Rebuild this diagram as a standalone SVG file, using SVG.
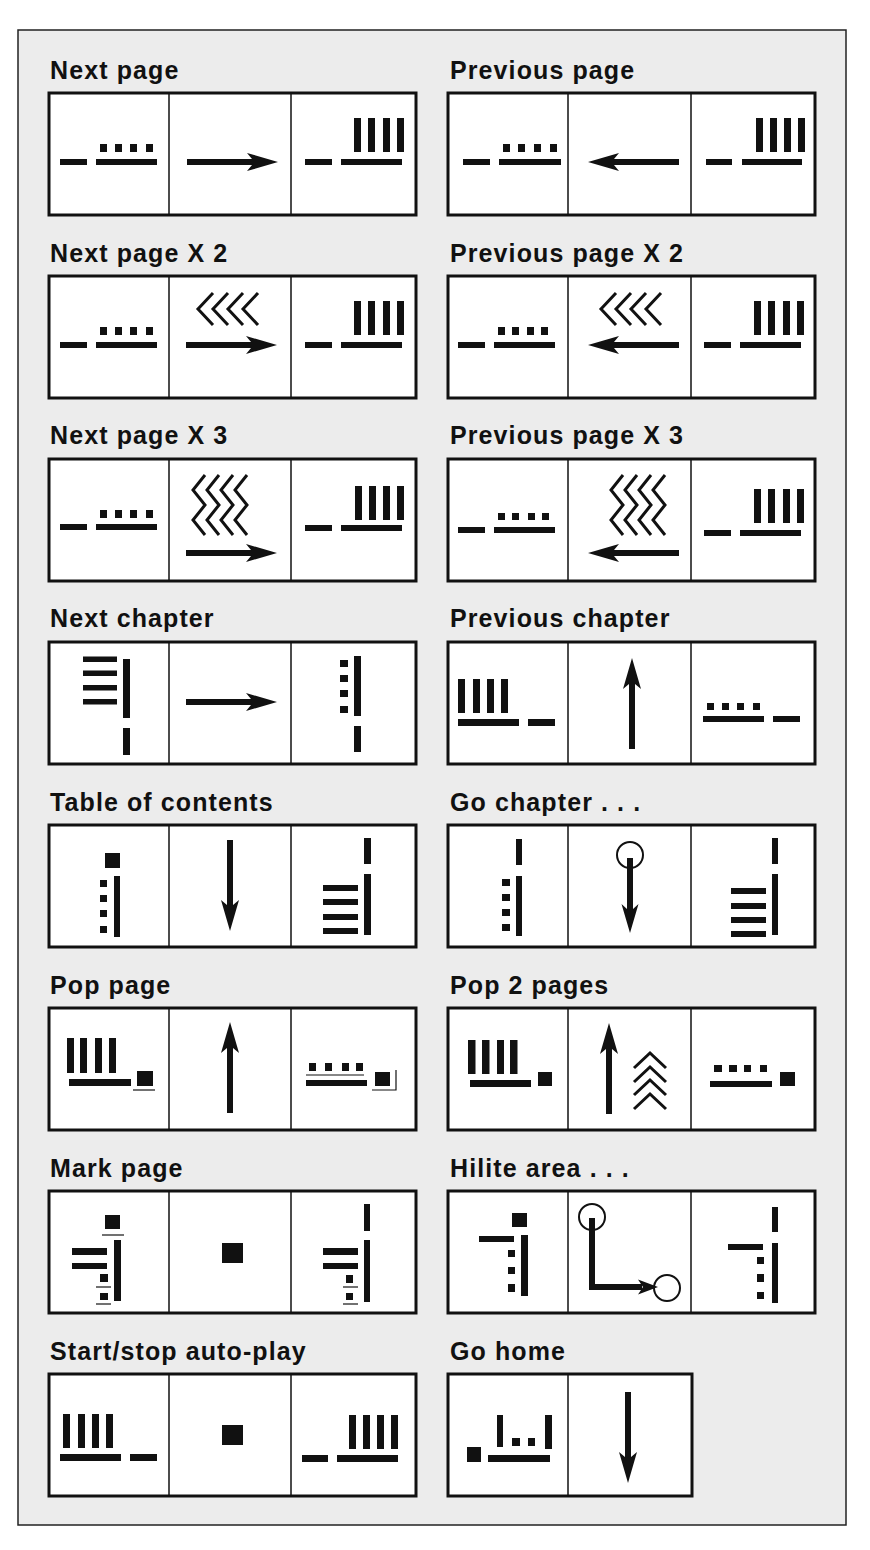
<svg xmlns="http://www.w3.org/2000/svg" xmlns:xlink="http://www.w3.org/1999/xlink" width="870" height="1550" viewBox="0 0 870 1550">
<style>
.frame{fill:#ececec;stroke:#222;stroke-width:1.5}
.box{fill:#fff;stroke:#111;stroke-width:3}
.dv{stroke:#111;stroke-width:1.5}
.k{fill:#111}
.lab{font-family:"Liberation Sans",Arial,Helvetica,sans-serif;font-weight:bold;font-size:25px;letter-spacing:1.1px;fill:#111}
.zz{fill:none;stroke:#111;stroke-width:3;stroke-linejoin:miter}
.thin{fill:none;stroke:#111;stroke-width:1.2}
.ring{fill:none;stroke:#111;stroke-width:2}
.ln{fill:none;stroke:#111;stroke-width:6}
</style>
<defs>
<path id="ar" d="M0,0 L-31,-9 L-26,-3 L-91,-3 L-91,3 L-26,3 L-31,9 Z" fill="#111"/>
</defs>
<rect class="frame" x="18" y="30" width="828" height="1495"/>

<g id="next-page">
<text class="lab" x="50" y="79">Next page</text>
<rect class="box" x="49" y="93" width="367" height="122"/>
<line class="dv" x1="169" y1="93" x2="169" y2="215"/><line class="dv" x1="291" y1="93" x2="291" y2="215"/>
<rect class="k" x="60" y="159" width="27" height="6"/><rect class="k" x="96" y="159" width="61" height="6"/>
<rect class="k" x="100" y="144" width="7" height="8"/><rect class="k" x="115" y="144" width="7" height="8"/><rect class="k" x="130" y="144" width="7" height="8"/><rect class="k" x="146" y="144" width="7" height="8"/>
<use xlink:href="#ar" transform="translate(278,162)"/>
<rect class="k" x="305" y="159" width="27" height="6"/><rect class="k" x="341" y="159" width="61" height="6"/>
<rect class="k" x="354" y="118" width="7" height="34"/><rect class="k" x="368" y="118" width="7" height="34"/><rect class="k" x="383" y="118" width="7" height="34"/><rect class="k" x="397" y="118" width="7" height="34"/>
</g>

<g id="previous-page">
<text class="lab" x="450" y="79">Previous page</text>
<rect class="box" x="448" y="93" width="367" height="122"/>
<line class="dv" x1="568" y1="93" x2="568" y2="215"/><line class="dv" x1="691" y1="93" x2="691" y2="215"/>
<rect class="k" x="463" y="159" width="27" height="6"/><rect class="k" x="499" y="159" width="62" height="6"/>
<rect class="k" x="503" y="144" width="7" height="8"/><rect class="k" x="518" y="144" width="7" height="8"/><rect class="k" x="534" y="144" width="7" height="8"/><rect class="k" x="550" y="144" width="7" height="8"/>
<use xlink:href="#ar" transform="translate(588,162) rotate(180)"/>
<rect class="k" x="706" y="159" width="26" height="6"/><rect class="k" x="742" y="159" width="60" height="6"/>
<rect class="k" x="756" y="118" width="7" height="34"/><rect class="k" x="770" y="118" width="7" height="34"/><rect class="k" x="784" y="118" width="7" height="34"/><rect class="k" x="798" y="118" width="7" height="34"/>
</g>

<g id="next-page-x2">
<text class="lab" x="50" y="262">Next page X 2</text>
<rect class="box" x="49" y="276" width="367" height="122"/>
<line class="dv" x1="169" y1="276" x2="169" y2="398"/><line class="dv" x1="291" y1="276" x2="291" y2="398"/>
<rect class="k" x="60" y="342" width="27" height="6"/><rect class="k" x="96" y="342" width="61" height="6"/>
<rect class="k" x="100" y="327" width="7" height="8"/><rect class="k" x="115" y="327" width="7" height="8"/><rect class="k" x="130" y="327" width="7" height="8"/><rect class="k" x="146" y="327" width="7" height="8"/>
<polyline class="zz" points="213,293 198,309 213,325"/><polyline class="zz" points="228,293 213,309 228,325"/><polyline class="zz" points="243,293 228,309 243,325"/><polyline class="zz" points="258,293 243,309 258,325"/>
<use xlink:href="#ar" transform="translate(277,345)"/>
<rect class="k" x="305" y="342" width="27" height="6"/><rect class="k" x="341" y="342" width="61" height="6"/>
<rect class="k" x="354" y="301" width="7" height="34"/><rect class="k" x="368" y="301" width="7" height="34"/><rect class="k" x="383" y="301" width="7" height="34"/><rect class="k" x="397" y="301" width="7" height="34"/>
</g>

<g id="previous-page-x2">
<text class="lab" x="450" y="262">Previous page X 2</text>
<rect class="box" x="448" y="276" width="367" height="122"/>
<line class="dv" x1="568" y1="276" x2="568" y2="398"/><line class="dv" x1="691" y1="276" x2="691" y2="398"/>
<rect class="k" x="458" y="342" width="27" height="6"/><rect class="k" x="494" y="342" width="61" height="6"/>
<rect class="k" x="498" y="327" width="7" height="8"/><rect class="k" x="512" y="327" width="7" height="8"/><rect class="k" x="527" y="327" width="7" height="8"/><rect class="k" x="541" y="327" width="7" height="8"/>
<polyline class="zz" points="616,293 601,309 616,325"/><polyline class="zz" points="631,293 616,309 631,325"/><polyline class="zz" points="646,293 631,309 646,325"/><polyline class="zz" points="661,293 646,309 661,325"/>
<use xlink:href="#ar" transform="translate(588,345) rotate(180)"/>
<rect class="k" x="704" y="342" width="27" height="6"/><rect class="k" x="740" y="342" width="61" height="6"/>
<rect class="k" x="754" y="301" width="7" height="34"/><rect class="k" x="768" y="301" width="7" height="34"/><rect class="k" x="783" y="301" width="7" height="34"/><rect class="k" x="797" y="301" width="7" height="34"/>
</g>

<g id="next-page-x3">
<text class="lab" x="50" y="444">Next page X 3</text>
<rect class="box" x="49" y="459" width="367" height="122"/>
<line class="dv" x1="169" y1="459" x2="169" y2="581"/><line class="dv" x1="291" y1="459" x2="291" y2="581"/>
<rect class="k" x="60" y="524" width="27" height="6"/><rect class="k" x="96" y="524" width="61" height="6"/>
<rect class="k" x="100" y="510" width="7" height="8"/><rect class="k" x="115" y="510" width="7" height="8"/><rect class="k" x="130" y="510" width="7" height="8"/><rect class="k" x="146" y="510" width="7" height="8"/>
<polyline class="zz" points="205,475 193,490 205,505 193,520 205,535"/><polyline class="zz" points="219,475 207,490 219,505 207,520 219,535"/><polyline class="zz" points="233,475 221,490 233,505 221,520 233,535"/><polyline class="zz" points="247,475 235,490 247,505 235,520 247,535"/>
<use xlink:href="#ar" transform="translate(277,553)"/>
<rect class="k" x="305" y="525" width="27" height="6"/><rect class="k" x="341" y="525" width="61" height="6"/>
<rect class="k" x="355" y="486" width="7" height="34"/><rect class="k" x="369" y="486" width="7" height="34"/><rect class="k" x="383" y="486" width="7" height="34"/><rect class="k" x="397" y="486" width="7" height="34"/>
</g>

<g id="previous-page-x3">
<text class="lab" x="450" y="444">Previous page X 3</text>
<rect class="box" x="448" y="459" width="367" height="122"/>
<line class="dv" x1="568" y1="459" x2="568" y2="581"/><line class="dv" x1="691" y1="459" x2="691" y2="581"/>
<rect class="k" x="458" y="527" width="27" height="6"/><rect class="k" x="494" y="527" width="61" height="6"/>
<rect class="k" x="498" y="513" width="7" height="7"/><rect class="k" x="512" y="513" width="7" height="7"/><rect class="k" x="528" y="513" width="7" height="7"/><rect class="k" x="542" y="513" width="7" height="7"/>
<polyline class="zz" points="623,475 611,490 623,505 611,520 623,535"/><polyline class="zz" points="637,475 625,490 637,505 625,520 637,535"/><polyline class="zz" points="651,475 639,490 651,505 639,520 651,535"/><polyline class="zz" points="665,475 653,490 665,505 653,520 665,535"/>
<use xlink:href="#ar" transform="translate(588,553) rotate(180)"/>
<rect class="k" x="704" y="530" width="27" height="6"/><rect class="k" x="740" y="530" width="61" height="6"/>
<rect class="k" x="754" y="489" width="7" height="34"/><rect class="k" x="768" y="489" width="7" height="34"/><rect class="k" x="783" y="489" width="7" height="34"/><rect class="k" x="797" y="489" width="7" height="34"/>
</g>

<g id="next-chapter">
<text class="lab" x="50" y="627">Next chapter</text>
<rect class="box" x="49" y="642" width="367" height="122"/>
<line class="dv" x1="169" y1="642" x2="169" y2="764"/><line class="dv" x1="291" y1="642" x2="291" y2="764"/>
<rect class="k" x="83" y="656.5" width="34" height="5.5"/><rect class="k" x="83" y="670.5" width="34" height="5.5"/><rect class="k" x="83" y="685" width="34" height="5.5"/><rect class="k" x="83" y="699" width="34" height="5.5"/>
<rect class="k" x="123" y="659" width="7" height="59"/><rect class="k" x="123" y="728" width="7" height="27"/>
<use xlink:href="#ar" transform="translate(277,702)"/>
<rect class="k" x="340" y="660" width="8" height="7"/><rect class="k" x="340" y="675" width="8" height="7"/><rect class="k" x="340" y="690" width="8" height="7"/><rect class="k" x="340" y="706" width="8" height="7"/>
<rect class="k" x="354" y="656" width="7" height="60"/><rect class="k" x="354" y="726" width="7" height="26"/>
</g>

<g id="previous-chapter">
<text class="lab" x="450" y="627">Previous chapter</text>
<rect class="box" x="448" y="642" width="367" height="122"/>
<line class="dv" x1="568" y1="642" x2="568" y2="764"/><line class="dv" x1="691" y1="642" x2="691" y2="764"/>
<rect class="k" x="458" y="679" width="7" height="34"/><rect class="k" x="473" y="679" width="7" height="34"/><rect class="k" x="487" y="679" width="7" height="34"/><rect class="k" x="501" y="679" width="7" height="34"/>
<rect class="k" x="458" y="719" width="61" height="7"/><rect class="k" x="528" y="719" width="27" height="7"/>
<use xlink:href="#ar" transform="translate(632,658) rotate(-90)"/>
<rect class="k" x="707" y="703" width="7" height="7"/><rect class="k" x="722" y="703" width="7" height="7"/><rect class="k" x="737" y="703" width="7" height="7"/><rect class="k" x="753" y="703" width="7" height="7"/>
<rect class="k" x="703" y="716" width="61" height="6"/><rect class="k" x="773" y="716" width="27" height="6"/>
</g>

<g id="table-of-contents">
<text class="lab" x="50" y="811">Table of contents</text>
<rect class="box" x="49" y="825" width="367" height="122"/>
<line class="dv" x1="169" y1="825" x2="169" y2="947"/><line class="dv" x1="291" y1="825" x2="291" y2="947"/>
<rect class="k" x="105" y="853" width="15" height="15"/>
<rect class="k" x="100" y="880" width="7" height="7"/><rect class="k" x="100" y="895" width="7" height="7"/><rect class="k" x="100" y="910" width="7" height="7"/><rect class="k" x="100" y="926" width="7" height="7"/>
<rect class="k" x="114" y="876" width="6" height="61"/>
<use xlink:href="#ar" transform="translate(230,931) rotate(90)"/>
<rect class="k" x="364" y="838" width="7" height="26"/><rect class="k" x="364" y="874" width="7" height="61"/>
<rect class="k" x="323" y="885" width="35" height="6"/><rect class="k" x="323" y="899" width="35" height="6"/><rect class="k" x="323" y="914" width="35" height="6"/><rect class="k" x="323" y="928" width="35" height="6"/>
</g>

<g id="go-chapter">
<text class="lab" x="450" y="811">Go chapter . . .</text>
<rect class="box" x="448" y="825" width="367" height="122"/>
<line class="dv" x1="568" y1="825" x2="568" y2="947"/><line class="dv" x1="691" y1="825" x2="691" y2="947"/>
<rect class="k" x="516" y="839" width="6" height="26"/><rect class="k" x="516" y="876" width="6" height="60"/>
<rect class="k" x="502" y="879" width="8" height="7"/><rect class="k" x="502" y="894" width="8" height="7"/><rect class="k" x="502" y="909" width="8" height="7"/><rect class="k" x="502" y="924" width="8" height="7"/>
<circle class="ring" cx="630" cy="855" r="13"/>
<path class="k" d="M630,933 L621.5,904 L627,909 L627,858 L633,858 L633,909 L638.5,904 Z"/>
<rect class="k" x="772" y="838" width="6" height="26"/><rect class="k" x="772" y="874" width="6" height="61"/>
<rect class="k" x="731" y="888" width="35" height="6"/><rect class="k" x="731" y="903" width="35" height="6"/><rect class="k" x="731" y="917" width="35" height="6"/><rect class="k" x="731" y="931" width="35" height="6"/>
</g>

<g id="pop-page">
<text class="lab" x="50" y="994">Pop page</text>
<rect class="box" x="49" y="1008" width="367" height="122"/>
<line class="dv" x1="169" y1="1008" x2="169" y2="1130"/><line class="dv" x1="291" y1="1008" x2="291" y2="1130"/>
<rect class="k" x="67" y="1038" width="7" height="35"/><rect class="k" x="80" y="1038" width="7" height="35"/><rect class="k" x="95" y="1038" width="7" height="35"/><rect class="k" x="109" y="1038" width="7" height="35"/>
<rect class="k" x="69" y="1079" width="62" height="7"/><rect class="k" x="137" y="1071" width="16" height="15"/>
<line class="thin" x1="133" y1="1090" x2="155" y2="1090"/>
<use xlink:href="#ar" transform="translate(230,1022) rotate(-90)"/>
<rect class="k" x="309" y="1063" width="7" height="8"/><rect class="k" x="325" y="1063" width="7" height="8"/><rect class="k" x="342" y="1063" width="7" height="8"/><rect class="k" x="356" y="1063" width="7" height="8"/>
<line class="thin" x1="306" y1="1075" x2="364" y2="1075"/>
<rect class="k" x="306" y="1080" width="61" height="6"/><rect class="k" x="375" y="1072" width="15" height="14"/>
<polyline class="thin" points="372,1090 396,1090 396,1070"/>
</g>

<g id="pop-2-pages">
<text class="lab" x="450" y="994">Pop 2 pages</text>
<rect class="box" x="448" y="1008" width="367" height="122"/>
<line class="dv" x1="568" y1="1008" x2="568" y2="1130"/><line class="dv" x1="691" y1="1008" x2="691" y2="1130"/>
<rect class="k" x="468" y="1040" width="7.5" height="34"/><rect class="k" x="482" y="1040" width="7.5" height="34"/><rect class="k" x="497" y="1040" width="7" height="34"/><rect class="k" x="510" y="1040" width="7.5" height="34"/>
<rect class="k" x="470" y="1080" width="61" height="7"/><rect class="k" x="538" y="1072" width="14" height="14"/>
<use xlink:href="#ar" transform="translate(609,1023) rotate(-90)"/>
<polyline class="zz" points="634,1068 650,1053 666,1068"/><polyline class="zz" points="634,1082 650,1067 666,1082"/><polyline class="zz" points="634,1095 650,1080 666,1095"/><polyline class="zz" points="634,1109 650,1094 666,1109"/>
<rect class="k" x="714" y="1065" width="8" height="7"/><rect class="k" x="729" y="1065" width="8" height="7"/><rect class="k" x="744" y="1065" width="7" height="7"/><rect class="k" x="760" y="1065" width="7" height="7"/>
<rect class="k" x="710" y="1081" width="62" height="6"/><rect class="k" x="780" y="1072" width="15" height="14"/>
</g>

<g id="mark-page">
<text class="lab" x="50" y="1177">Mark page</text>
<rect class="box" x="49" y="1191" width="367" height="122"/>
<line class="dv" x1="169" y1="1191" x2="169" y2="1313"/><line class="dv" x1="291" y1="1191" x2="291" y2="1313"/>
<rect class="k" x="105" y="1215" width="15" height="14"/>
<line class="thin" x1="102" y1="1235" x2="124" y2="1235"/>
<rect class="k" x="114" y="1240" width="7" height="61"/>
<rect class="k" x="72" y="1248" width="35" height="7"/><rect class="k" x="72" y="1263" width="35" height="6"/>
<rect class="k" x="100" y="1274" width="8" height="8"/><line class="thin" x1="96" y1="1287" x2="111" y2="1287"/>
<rect class="k" x="100" y="1293" width="8" height="7"/><line class="thin" x1="96" y1="1304" x2="111" y2="1304"/>
<rect class="k" x="222" y="1243" width="21" height="20"/>
<rect class="k" x="364" y="1204" width="6" height="27"/><rect class="k" x="364" y="1240" width="6" height="62"/>
<rect class="k" x="323" y="1248" width="35" height="7"/><rect class="k" x="323" y="1263" width="35" height="6"/>
<rect class="k" x="346" y="1275" width="7" height="8"/><line class="thin" x1="343" y1="1287" x2="358" y2="1287"/>
<rect class="k" x="346" y="1293" width="7" height="7"/><line class="thin" x1="343" y1="1304" x2="358" y2="1304"/>
</g>

<g id="hilite-area">
<text class="lab" x="450" y="1177">Hilite area . . .</text>
<rect class="box" x="448" y="1191" width="367" height="122"/>
<line class="dv" x1="568" y1="1191" x2="568" y2="1313"/><line class="dv" x1="691" y1="1191" x2="691" y2="1313"/>
<rect class="k" x="512" y="1213" width="15" height="14"/>
<rect class="k" x="479" y="1236" width="35" height="6"/><rect class="k" x="521" y="1235" width="7" height="61"/>
<rect class="k" x="508" y="1250" width="7" height="7"/><rect class="k" x="508" y="1267" width="7" height="7"/><rect class="k" x="508" y="1284" width="7" height="8"/>
<circle class="ring" cx="592" cy="1217" r="13"/>
<path class="ln" d="M592,1218 V1287 H642"/>
<path class="k" d="M658,1287 L638,1279.5 L643,1287 L638,1294.5 Z"/>
<circle class="ring" cx="667" cy="1288" r="13"/>
<rect class="k" x="772" y="1207" width="6" height="25"/><rect class="k" x="772" y="1243" width="6" height="60"/>
<rect class="k" x="728" y="1244" width="35" height="6"/>
<rect class="k" x="757" y="1257" width="7" height="7"/><rect class="k" x="757" y="1274" width="7" height="8"/><rect class="k" x="757" y="1292" width="7" height="7"/>
</g>

<g id="start-stop-auto-play">
<text class="lab" x="50" y="1360">Start/stop auto-play</text>
<rect class="box" x="49" y="1374" width="367" height="122"/>
<line class="dv" x1="169" y1="1374" x2="169" y2="1496"/><line class="dv" x1="291" y1="1374" x2="291" y2="1496"/>
<rect class="k" x="63" y="1414" width="7" height="34"/><rect class="k" x="78" y="1414" width="7" height="34"/><rect class="k" x="92" y="1414" width="7" height="34"/><rect class="k" x="106" y="1414" width="7" height="34"/>
<rect class="k" x="60" y="1454" width="61" height="7"/><rect class="k" x="130" y="1454" width="27" height="7"/>
<rect class="k" x="222" y="1425" width="21" height="20"/>
<rect class="k" x="302" y="1455" width="26" height="7"/><rect class="k" x="337" y="1455" width="61" height="7"/>
<rect class="k" x="349" y="1415" width="7" height="34"/><rect class="k" x="363" y="1415" width="7" height="34"/><rect class="k" x="377" y="1415" width="7" height="34"/><rect class="k" x="391" y="1415" width="7" height="34"/>
</g>

<g id="go-home">
<text class="lab" x="450" y="1360">Go home</text>
<rect class="box" x="448" y="1374" width="244" height="122"/>
<line class="dv" x1="568" y1="1374" x2="568" y2="1496"/>
<rect class="k" x="467" y="1447" width="14" height="15"/>
<rect class="k" x="488" y="1455" width="62" height="7"/>
<rect class="k" x="497" y="1415" width="6" height="32"/>
<rect class="k" x="512" y="1438" width="8" height="8"/><rect class="k" x="528" y="1438" width="7" height="8"/>
<rect class="k" x="545" y="1415" width="7" height="34"/>
<use xlink:href="#ar" transform="translate(628,1483) rotate(90)"/>
</g>
</svg>
